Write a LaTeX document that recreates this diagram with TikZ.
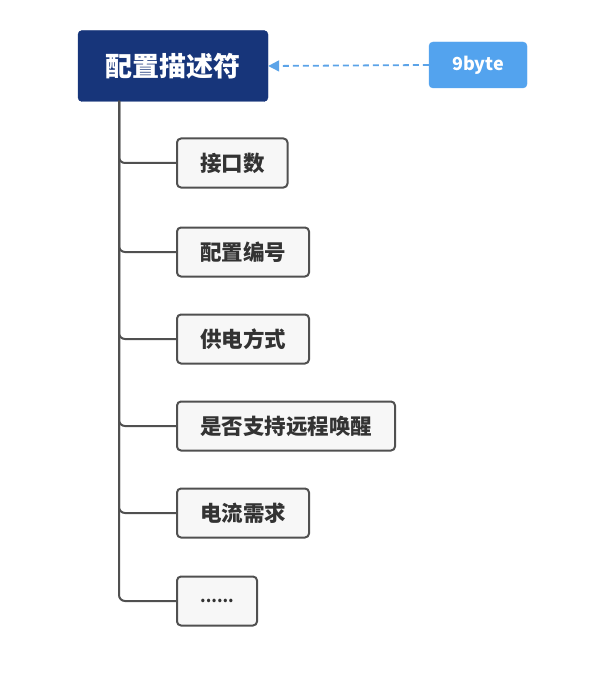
\documentclass[tikz,border=0pt]{standalone}
\usepackage{fontspec}
\newfontfamily\cjk{Noto Sans CJK SC}
\usetikzlibrary{arrows.meta}
\definecolor{rootblue}{HTML}{17357A}
\definecolor{tagblue}{HTML}{53A3EE}
\definecolor{dashblue}{HTML}{5BA3E8}
\definecolor{boxgray}{HTML}{F7F7F7}
\definecolor{linegray}{HTML}{505050}
\definecolor{textgray}{HTML}{333333}
\begin{document}
\begin{tikzpicture}[x=1pt, y=-1pt,
        rootbox/.style={fill=rootblue, draw=rootblue, rounded corners=4pt, text=white,
            font=\cjk\bfseries\fontsize{27}{31}\selectfont,
            minimum height=71pt, minimum width=190pt},
        tagbox/.style={fill=tagblue, draw=tagblue, rounded corners=4pt, text=white,
            font=\cjk\bfseries\fontsize{18}{21}\selectfont, minimum height=46pt,
            minimum width=98pt},
        itembox/.style={fill=boxgray, draw=linegray, line width=2pt, rounded corners=4pt,
            text=textgray, font=\cjk\bfseries\fontsize{21.5}{25}\selectfont, inner xsep=23pt,
            minimum height=49pt, anchor=west},
        branch/.style={draw=linegray, line width=2pt, rounded corners=6pt}]
        \useasboundingbox (0, 0) rectangle (601, 687);

        \node [rootbox] (root) at (173, 66) {配置描述符};
        \node [tagbox] (size) at (478, 65) {9byte};
        \draw [dashblue, line width=1.8pt, dash pattern=on 6pt off 4pt,
            -{Triangle[length=11pt, width=11pt]}] (size.west) -- (root.east);

        \coordinate (trunk) at (119, 101);

        \node [itembox] (n1) at (176, 163) {接口数};
        \node [itembox] (n2) at (176, 252) {配置编号};
        \node [itembox] (n3) at (176, 339) {供电方式};
        \node [itembox] (n4) at (176, 426) {是否支持远程唤醒};
        \node [itembox] (n5) at (176, 513) {电流需求};
        \node [itembox, minimum width=80pt, inner xsep=0pt,
            font=\cjk\bfseries\fontsize{16}{19}\selectfont] (n6) at (176, 601) {......};

        \foreach \n in {n1, n2, n3, n4, n5, n6}
            \draw [branch] (trunk) |- (\n.west);
        \end{tikzpicture}
\end{document}
